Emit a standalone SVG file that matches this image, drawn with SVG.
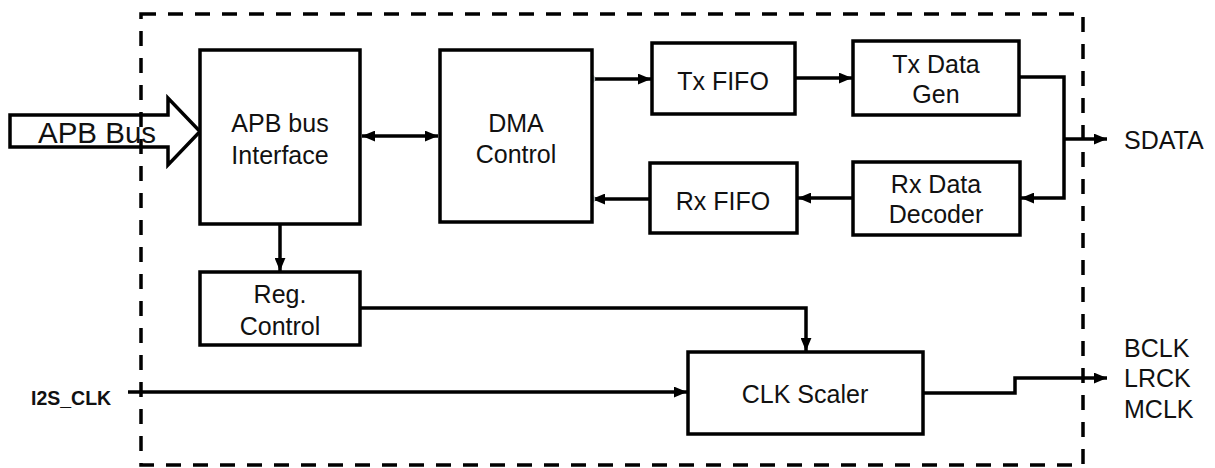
<svg xmlns="http://www.w3.org/2000/svg" width="1215" height="468" viewBox="0 0 1215 468">
<style>
.box{fill:#fff;stroke:#000;stroke-width:3.5}
.t{font-family:"Liberation Sans",Arial,sans-serif;font-size:25px;fill:#111;text-anchor:middle}
.lbl{font-family:"Liberation Sans",Arial,sans-serif;font-size:25px;fill:#111}
.c{fill:none;stroke:#000;stroke-width:3.5}
.dot{fill:#8e9c9e;stroke:#b6c0c2;stroke-width:1.5}
</style>
<defs>
<marker id="ah" viewBox="0 0 12 10" refX="12" refY="5" markerWidth="13" markerHeight="11" markerUnits="userSpaceOnUse" orient="auto-start-reverse">
<path d="M0,0 L12,5 L0,10 Z" fill="#000"/>
</marker>
</defs>
<rect width="1215" height="468" fill="#fff"/>
<g id="apb-bus-arrow">
<polygon points="10,115 168,115 168,98 200,131.5 168,165 168,147 10,147" fill="#fff" stroke="#000" stroke-width="3.5" stroke-linejoin="miter"/>
</g>
<g id="boundary">
<rect x="141" y="14" width="942" height="451" fill="none" stroke="#000" stroke-width="3.5" stroke-dasharray="15 12"/>
</g>
<text class="lbl" x="38" y="143" style="font-size:29.5px">APB Bus</text>
<g id="connectors">
<line class="c" x1="362" y1="136" x2="438" y2="136" marker-start="url(#ah)" marker-end="url(#ah)"/>
<line class="c" x1="592" y1="79" x2="651" y2="79" marker-end="url(#ah)"/>
<line class="c" x1="795" y1="78" x2="852" y2="78" marker-end="url(#ah)"/>
<path class="c" d="M1019,77 H1064 V198 H1021" marker-end="url(#ah)"/>
<path class="c" d="M1064,139 H1107" marker-end="url(#ah)"/>
<line class="c" x1="853" y1="198" x2="798" y2="198" marker-end="url(#ah)"/>
<line class="c" x1="650" y1="199" x2="592" y2="199" marker-end="url(#ah)"/>
<line class="c" x1="280" y1="224" x2="280" y2="271" marker-end="url(#ah)"/>
<path class="c" d="M360,308 H806 V351" marker-end="url(#ah)"/>
<path class="c" d="M128,392 H687" marker-end="url(#ah)"/>
<path class="c" d="M923,393 H1015 V378 H1107" marker-end="url(#ah)"/>
<circle class="dot" cx="590" cy="79" r="4.5"/>
<circle class="dot" cx="590" cy="199" r="4.5"/>
</g>
<g id="apb-interface">
<rect class="box" x="200" y="50" width="160" height="174"/>
<text class="t" x="280" y="132">APB bus</text>
<text class="t" x="280" y="164">Interface</text>
</g>
<g id="dma-control">
<rect class="box" x="440" y="50" width="152" height="172"/>
<text class="t" x="516" y="132">DMA</text>
<text class="t" x="516" y="163">Control</text>
</g>
<g id="tx-fifo">
<rect class="box" x="652" y="43" width="143" height="71"/>
<text class="t" x="723" y="90">Tx FIFO</text>
</g>
<g id="rx-fifo">
<rect class="box" x="650" y="163" width="147" height="70"/>
<text class="t" x="723" y="210">Rx FIFO</text>
</g>
<g id="tx-data-gen">
<rect class="box" x="853" y="41" width="166" height="74"/>
<text class="t" x="936" y="73">Tx Data</text>
<text class="t" x="936" y="103">Gen</text>
</g>
<g id="rx-data-decoder">
<rect class="box" x="853" y="162" width="167" height="73"/>
<text class="t" x="936" y="193">Rx Data</text>
<text class="t" x="936" y="223">Decoder</text>
</g>
<g id="reg-control">
<rect class="box" x="200" y="272" width="160" height="73"/>
<text class="t" x="280" y="303">Reg.</text>
<text class="t" x="280" y="335">Control</text>
</g>
<g id="clk-scaler">
<rect class="box" x="688" y="352" width="235" height="82"/>
<text class="t" x="805" y="403">CLK Scaler</text>
</g>
<g id="labels">
<text class="lbl" x="1124" y="149">SDATA</text>
<text class="lbl" x="1124" y="357">BCLK</text>
<text class="lbl" x="1124" y="387">LRCK</text>
<text class="lbl" x="1124" y="418">MCLK</text>
<text x="31" y="405" style="font-family:'Liberation Sans',Arial,sans-serif;font-size:19.5px;font-weight:bold;fill:#111">I2S_CLK</text>
</g>
</svg>
